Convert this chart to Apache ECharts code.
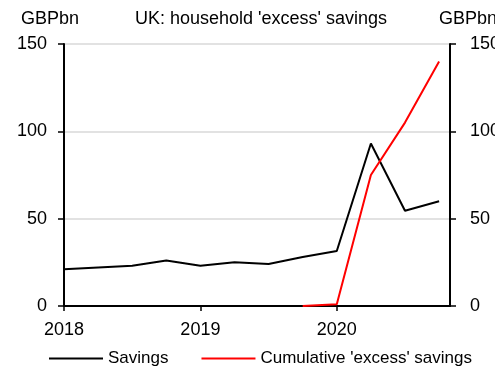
<!DOCTYPE html>
<html>
<head>
<meta charset="utf-8">
<script src="https://cdn.jsdelivr.net/npm/echarts@6/dist/echarts.min.js"></script>
<style>
  html, body { margin: 0; padding: 0; background: #fff; }
  #chart { width: 495px; height: 368px; }
</style>
</head>
<body>
<div id="chart"></div>
<script>
// Quarterly data, 2018 Q1 .. 2020 Q4 (index 0 = 2018 Q1)
const quarters = ['2018Q1','2018Q2','2018Q3','2018Q4','2019Q1','2019Q2','2019Q3','2019Q4','2020Q1','2020Q2','2020Q3','2020Q4'];
const savings = [21, 22, 23, 26, 23, 25, 24, 28, 31.5, 93, 54.5, 60];
// cumulative excess savings starts in 2019 Q4
const excessStart = 7;
const excessSavings = [0, 1, 75, 105, 140];
const yearLabels = { 0: '2018', 4: '2019', 8: '2020' };

const FONT = '"Liberation Sans", Arial, sans-serif';

const savingsData = savings.map((v, i) => [i, v]);
const excessData = excessSavings.map((v, i) => [excessStart + i, v]);

const chart = echarts.init(document.getElementById('chart'));
chart.setOption({
  animation: false,
  backgroundColor: '#fff',
  textStyle: { fontFamily: FONT },
  title: {
    text: "UK: household 'excess' savings",
    left: 256, top: 5, textAlign: 'center',
    textStyle: { fontFamily: FONT, fontSize: 18, fontWeight: 'normal', color: '#000' }
  },
  legend: {
    left: 49, top: 350, width: 446, itemGap: 33, itemWidth: 54, itemHeight: 2,
    icon: 'rect', padding: 0,
    textStyle: { fontFamily: FONT, fontSize: 17, color: '#000' },
    data: ['Savings', "Cumulative 'excess' savings"]
  },
  grid: { left: 64, right: 45, top: 44, bottom: 62, containLabel: false, outerBoundsMode: 'none' },
  xAxis: {
    type: 'value', min: 0, max: 11.32, interval: 4,
    axisLine: { lineStyle: { color: '#000', width: 2 } },
    axisTick: { show: true, length: 5, lineStyle: { color: '#000', width: 1.5 } },
    splitLine: { show: false },
    axisLabel: {
      showMaxLabel: false, margin: 15,
      fontFamily: FONT, fontSize: 18, color: '#000',
      formatter: v => yearLabels[v] || ''
    }
  },
  yAxis: [
    {
      type: 'value', min: 0, max: 150, interval: 50,
      name: 'GBPbn', nameGap: 16,
      nameTextStyle: { fontFamily: FONT, fontSize: 18, color: '#000', align: 'center', padding: [0, 0, 0, -28] },
      axisLine: { show: true, lineStyle: { color: '#000', width: 2 } },
      axisTick: { show: true, length: 6, lineStyle: { color: '#000', width: 1.5 } },
      splitLine: { show: true, lineStyle: { color: '#d9d9d9', width: 1.5 } },
      axisLabel: { margin: 17, fontFamily: FONT, fontSize: 18, color: '#000' }
    },
    {
      type: 'value', min: 0, max: 150, interval: 50, position: 'right',
      name: 'GBPbn', nameGap: 16,
      nameTextStyle: { fontFamily: FONT, fontSize: 18, color: '#000', align: 'left', padding: [0, 0, 0, -11] },
      axisLine: { show: true, lineStyle: { color: '#000', width: 2 } },
      axisTick: { show: true, length: 6, lineStyle: { color: '#000', width: 1.5 } },
      splitLine: { show: false },
      axisLabel: { margin: 20, fontFamily: FONT, fontSize: 18, color: '#000' }
    }
  ],
  series: [
    {
      name: 'Savings', type: 'line', data: savingsData, yAxisIndex: 0,
      showSymbol: false, symbol: 'none',
      lineStyle: { color: '#000', width: 2 }, itemStyle: { color: '#000' }
    },
    {
      name: "Cumulative 'excess' savings", type: 'line', data: excessData, yAxisIndex: 1,
      showSymbol: false, symbol: 'none',
      lineStyle: { color: '#ff0000', width: 2 }, itemStyle: { color: '#ff0000' }
    }
  ]
});
</script>
</body>
</html>
